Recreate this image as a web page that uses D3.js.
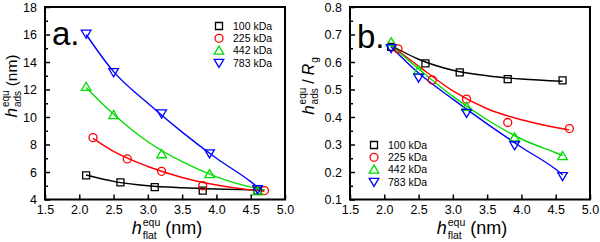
<!DOCTYPE html>
<html>
<head>
<meta charset="utf-8">
<script src="https://cdn.jsdelivr.net/npm/d3@7"></script>
<style>
  body { margin: 0; background: #fff; }
  text { font-family: "Liberation Sans", Arial, sans-serif; }
</style>
</head>
<body>
<script>
// series names, colours and marker shapes
var seriesNames = ['100 kDa', '225 kDa', '442 kDa', '783 kDa'];
var seriesColors = ['#000000', '#ff0000', '#00dd00', '#0000ff'];
var seriesShapes = ['square', 'circle', 'up', 'down'];

// measured points, x = h_flat (nm)
var xPts100 = [2.1, 2.6, 3.1, 3.8, 4.6];
var xPts225 = [2.2, 2.7, 3.2, 3.8, 4.7];
var xPts442 = [2.1, 2.5, 3.2, 3.9, 4.6];
var xPts783 = [2.1, 2.5, 3.2, 3.9, 4.6];

// panel a: h_ads (nm)
var aPts100 = [5.75, 5.25, 4.9, 4.65, 4.65];
var aPts225 = [8.5, 6.95, 6.05, 5.0, 4.65];
var aPts442 = [12.2, 10.15, 7.3, 5.85, 4.6];
var aPts783 = [16.05, 13.25, 10.25, 7.35, 4.75];

// panel b: h_ads / Rg
var bPts100 = [0.655, 0.595, 0.562, 0.538, 0.533];
var bPts225 = [0.648, 0.535, 0.465, 0.38, 0.358];
var bPts442 = [0.672, 0.57, 0.437, 0.326, 0.258];
var bPts783 = [0.65, 0.543, 0.415, 0.297, 0.185];

// fitted curves
var aFitX100 = [2.1, 2.5, 3.0, 3.5, 4.0, 4.5, 4.7];
var aFit100 = [5.78, 5.32, 5.0, 4.85, 4.76, 4.7, 4.68];
var aFitX225 = [2.2, 2.5, 3.0, 3.5, 4.0, 4.5, 4.7];
var aFit225 = [8.45, 7.5, 6.4, 5.6, 5.05, 4.7, 4.6];
var aFitX442 = [2.1, 2.5, 3.0, 3.5, 4.0, 4.5, 4.7];
var aFit442 = [12.15, 10.2, 8.2, 6.75, 5.65, 4.9, 4.7];
var aFitX783 = [2.1, 2.5, 3.0, 3.5, 4.0, 4.5, 4.65];
var aFit783 = [16.0, 13.3, 11.0, 8.9, 7.0, 5.3, 4.7];

var bFitX100 = [2.1, 2.5, 3.0, 3.5, 4.0, 4.6];
var bFit100 = [0.66, 0.61, 0.57, 0.55, 0.538, 0.53];
var bFitX225 = [2.1, 2.5, 3.0, 3.5, 4.0, 4.5, 4.7];
var bFit225 = [0.66, 0.585, 0.495, 0.43, 0.39, 0.362, 0.353];
var bFitX442 = [2.1, 2.5, 3.0, 3.5, 4.0, 4.5, 4.6];
var bFit442 = [0.66, 0.575, 0.475, 0.39, 0.32, 0.27, 0.26];
var bFitX783 = [2.1, 2.5, 3.0, 3.5, 4.0, 4.5, 4.6];
var bFit783 = [0.655, 0.56, 0.465, 0.375, 0.29, 0.21, 0.19];

// tick values
var xTicks = [1.5, 2.0, 2.5, 3.0, 3.5, 4.0, 4.5, 5.0];
var aTicks = [4, 6, 8, 10, 12, 14, 16, 18];
var aMinor = [5, 7, 9, 11, 13, 15, 17];
var bTicks = [0.1, 0.2, 0.3, 0.4, 0.5, 0.6, 0.7, 0.8];
var bMinor = [0.15, 0.25, 0.35, 0.45, 0.55, 0.65, 0.75];

var svg = d3.select('body').append('svg')
  .attr('width', 600)
  .attr('height', 242);

function zip(xs, ys) {
  return xs.map(function(x, i) { return [x, ys[i]]; });
}

function markerPath(shape) {
  if (shape == 'square') return 'M-3.5,-3.5h7v7h-7Z';
  if (shape == 'circle') return 'M4,0A4,4 0 1,1 -4,0A4,4 0 1,1 4,0Z';
  if (shape == 'up') return 'M0,-4.5L4.8,3.6L-4.8,3.6Z';
  return 'M0,4.5L4.8,-3.6L-4.8,-3.6Z';
}

// titles with stacked super/subscripts, each piece its own text element
function richTitle(cx, cy, angle, pieces) {
  var outer = svg.append('g')
    .attr('transform', 'translate(' + cx + ',' + cy + ') rotate(' + angle + ')');
  var inner = outer.append('g');
  var cursor = 0, stackX = null, stackW = 0;
  pieces.forEach(function(p) {
    var t = inner.append('text')
      .attr('y', p.dy || 0)
      .attr('font-size', p.size)
      .attr('font-style', p.italic ? 'italic' : null)
      .text(p.t);
    var w = t.node().getComputedTextLength();
    if (p.pos == 'sup') {
      stackX = cursor + (p.gap || 0);
      stackW = w;
      t.attr('x', stackX);
    } else if (p.pos == 'sub') {
      var sx = stackX != null ? stackX : cursor + (p.gap || 0);
      t.attr('x', sx);
      cursor = sx + Math.max(w, stackW);
      stackX = null;
      stackW = 0;
    } else {
      t.attr('x', cursor + (p.gap || 0));
      cursor += (p.gap || 0) + w;
    }
  });
  inner.attr('transform', 'translate(' + (-cursor / 2) + ',0)');
}

function drawPanel(opt) {
  var g = svg.append('g');
  var x = d3.scaleLinear().domain([1.5, 5.0]).range([opt.left, opt.left + 240]);
  var y = d3.scaleLinear().domain(opt.yDomain).range([199.5, 7]);

  // fit lines
  var line = d3.line()
    .x(function(d) { return x(d[0]); })
    .y(function(d) { return y(d[1]); })
    .curve(d3.curveMonotoneX);
  opt.fits.forEach(function(f, i) {
    g.append('path')
      .attr('d', line(f))
      .attr('fill', 'none')
      .attr('stroke', seriesColors[i])
      .attr('stroke-width', 1.4);
  });

  // markers
  opt.points.forEach(function(pts, i) {
    g.selectAll(null)
      .data(pts)
      .enter()
      .append('path')
      .attr('d', markerPath(seriesShapes[i]))
      .attr('transform', function(d) { return 'translate(' + x(d[0]) + ',' + y(d[1]) + ')'; })
      .attr('fill', 'none')
      .attr('stroke', seriesColors[i])
      .attr('stroke-width', 1.3);
  });

  // axes, ticks pointing inward
  var bottomAxis = d3.axisBottom(x).tickValues(xTicks).tickFormat(d3.format('.1f'))
    .tickSizeInner(-5).tickSizeOuter(0).tickPadding(6);
  g.append('g')
    .attr('transform', 'translate(0,199.5)')
    .call(bottomAxis)
    .call(function(a) {
      a.select('.domain').remove();
      a.selectAll('line').attr('stroke-width', 1.5);
      a.selectAll('text').attr('font-size', 12.5).attr('font-family', 'Liberation Sans, Arial, sans-serif');
    });

  var leftAxis = d3.axisLeft(y).tickValues(opt.yTicks).tickFormat(opt.yFormat)
    .tickSizeInner(-5).tickSizeOuter(0).tickPadding(8);
  g.append('g')
    .attr('transform', 'translate(' + opt.left + ',0)')
    .call(leftAxis)
    .call(function(a) {
      a.select('.domain').remove();
      a.selectAll('line').attr('stroke-width', 1.5);
      a.selectAll('text').attr('font-size', 12.5).attr('font-family', 'Liberation Sans, Arial, sans-serif');
    });

  g.append('g')
    .attr('transform', 'translate(' + opt.left + ',0)')
    .call(d3.axisLeft(y).tickValues(opt.yMinor).tickFormat('').tickSizeInner(-3).tickSizeOuter(0))
    .call(function(a) {
      a.select('.domain').remove();
      a.selectAll('line').attr('stroke-width', 1.5);
    });

  // frame
  g.append('rect')
    .attr('x', opt.left)
    .attr('y', 7)
    .attr('width', 240)
    .attr('height', 192.5)
    .attr('fill', 'none')
    .attr('stroke', '#000')
    .attr('stroke-width', 2);

  // panel letter
  g.append('text')
    .attr('x', opt.left + opt.letterDx)
    .attr('y', opt.letterY)
    .attr('font-size', 33)
    .text(opt.letter);

  // legend
  seriesNames.forEach(function(name, i) {
    var ly = opt.legY + i * 12.3;
    g.append('path')
      .attr('d', markerPath(seriesShapes[i]))
      .attr('transform', 'translate(' + opt.legX + ',' + ly + ')')
      .attr('fill', 'none')
      .attr('stroke', seriesColors[i])
      .attr('stroke-width', 1.3);
    g.append('text')
      .attr('x', opt.legX + 14)
      .attr('y', ly + 3.6)
      .attr('font-size', 10.5)
      .text(name);
  });

  // x title: h_flat^equ (nm)
  richTitle(opt.left + 122, 234, 0, [
    { t: 'h', size: 18, italic: true },
    { t: 'equ', size: 10.5, pos: 'sup', dy: -8, gap: 1 },
    { t: 'flat', size: 10.5, pos: 'sub', dy: 4.5 },
    { t: '(nm)', size: 18, gap: 5 }
  ]);

  return g;
}

drawPanel({
  left: 45,
  yDomain: [4, 18],
  yTicks: aTicks,
  yMinor: aMinor,
  yFormat: d3.format('d'),
  points: [zip(xPts100, aPts100), zip(xPts225, aPts225), zip(xPts442, aPts442), zip(xPts783, aPts783)],
  fits: [zip(aFitX100, aFit100), zip(aFitX225, aFit225), zip(aFitX442, aFit442), zip(aFitX783, aFit783)],
  letter: 'a.',
  letterDx: 7,
  letterY: 45,
  legX: 219,
  legY: 26
});

drawPanel({
  left: 350,
  yDomain: [0.1, 0.8],
  yTicks: bTicks,
  yMinor: bMinor,
  yFormat: d3.format('.1f'),
  points: [zip(xPts100, bPts100), zip(xPts225, bPts225), zip(xPts442, bPts442), zip(xPts783, bPts783)],
  fits: [zip(bFitX100, bFit100), zip(bFitX225, bFit225), zip(bFitX442, bFit442), zip(bFitX783, bFit783)],
  letter: 'b.',
  letterDx: 7,
  letterY: 48,
  legX: 374,
  legY: 145
});

// y titles (rotated)
richTitle(17, 86, -90, [
  { t: 'h', size: 17, italic: true },
  { t: 'equ', size: 10, pos: 'sup', dy: -8, gap: 1 },
  { t: 'ads', size: 10, pos: 'sub', dy: 4 },
  { t: '(nm)', size: 15.5, gap: 4 }
]);

richTitle(314, 86, -90, [
  { t: 'h', size: 17, italic: true },
  { t: 'equ', size: 10, pos: 'sup', dy: -8, gap: 1 },
  { t: 'ads', size: 10, pos: 'sub', dy: 4 },
  { t: '/', size: 16, gap: 4 },
  { t: 'R', size: 16, italic: true, gap: 4 },
  { t: 'g', size: 10, dy: 4, gap: 1 }
]);
</script>
</body>
</html>
